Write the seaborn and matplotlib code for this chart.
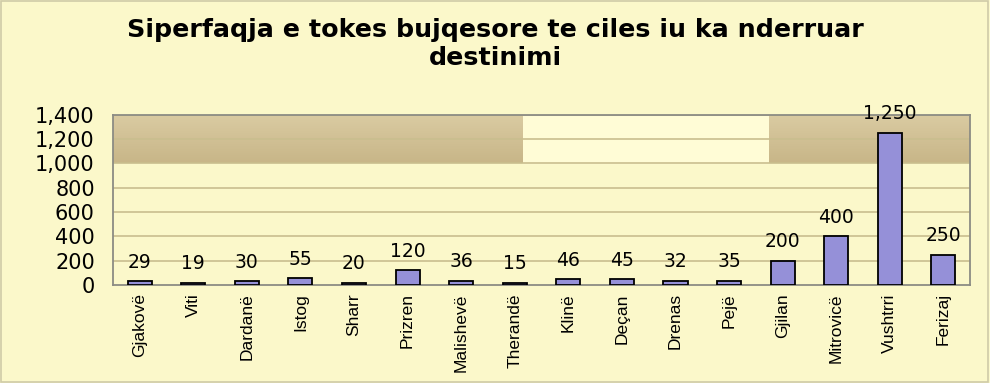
import numpy as np
import pandas as pd
import matplotlib
matplotlib.use("Agg")
import matplotlib.pyplot as plt
import seaborn as sns
from matplotlib.ticker import FuncFormatter
from matplotlib.colors import LinearSegmentedColormap
from matplotlib.patches import Rectangle

categories = ["Gjakovë", "Viti", "Dardanë", "Istog", "Sharr", "Prizren", "Malishevë",
              "Therandë", "Klinë", "Deçan", "Drenas", "Pejë", "Gjilan", "Mitrovicë",
              "Vushtrri", "Ferizaj"]
values = [29, 19, 30, 55, 20, 120, 36, 15, 46, 45, 32, 35, 200, 400, 1250, 250]
yticks = [0, 200, 400, 600, 800, 1000, 1200, 1400]
title_lines = ["Siperfaqja e tokes bujqesore te ciles iu ka nderruar", "destinimi"]

df = pd.DataFrame({"cat": categories, "val": values})

sns.set_style("white")
plt.rcParams["font.family"] = ["DejaVu Sans"]
plt.rcParams["text.color"] = "black"
plt.rcParams["xtick.color"] = "black"
plt.rcParams["ytick.color"] = "black"

bg = "#FBF8CA"
fig = plt.figure(figsize=(9.9, 3.83), dpi=100, facecolor=bg)
fig.patches.append(Rectangle((0.001, 0.003), 0.997, 0.995, transform=fig.transFigure,
                             fill=False, edgecolor="#CFCBA8", linewidth=1.2))
ax = fig.add_axes([0.114, 0.256, 0.866, 0.444])
ax.set_facecolor(bg)

# shaded bands (1000-1400)
cmap = LinearSegmentedColormap.from_list("band", ["#C8B688", "#DACBA2"])
grad = np.linspace(0, 1, 50).reshape(-1, 1)
ax.imshow(grad, extent=(-0.5, 7.14, 1000, 1400), origin="lower", aspect="auto",
          cmap=cmap, zorder=0.5)
ax.imshow(grad, extent=(11.75, 15.5, 1000, 1400), origin="lower", aspect="auto",
          cmap=cmap, zorder=0.5)
ax.axhspan(1000, 1400, xmin=(7.14 + 0.5) / 16, xmax=(11.75 + 0.5) / 16,
           color="#FFFCD6", zorder=0.4)

for y in yticks[1:]:
    ax.axhline(y, color="#C9BE8E", lw=1.2, zorder=1)

sns.barplot(data=df, x="cat", y="val", color="#9590D8", edgecolor="black",
            linewidth=1.3, width=0.45, saturation=1, ax=ax, zorder=3)

for i, v in enumerate(values):
    ax.annotate(f"{v:,}", xy=(i, v), xytext=(0, 7), textcoords="offset points",
                ha="center", va="bottom", fontsize=13.5, color="black", zorder=4,
                annotation_clip=False)

ax.set_xlim(-0.5, 15.5)
ax.set_ylim(0, 1400)
ax.set_yticks(yticks)
ax.yaxis.set_major_formatter(FuncFormatter(lambda v, p: f"{int(v):,}"))
ax.tick_params(axis="y", labelsize=15, length=4, color="#909090", pad=9)
ax.tick_params(axis="x", length=0, pad=6)
ax.set_xticks(range(len(categories)))
ax.set_xticklabels(categories, rotation=90, fontsize=12.5,
                   fontfamily=["Liberation Sans", "DejaVu Sans"])
ax.set_xlabel("")
ax.set_ylabel("")
for s in ["left", "bottom", "top", "right"]:
    ax.spines[s].set_color("#8C8C84")
    ax.spines[s].set_linewidth(1.3)

fig.text(0.5, 0.922, title_lines[0], ha="center", va="center", fontsize=18.3,
         fontweight="bold", color="black")
fig.text(0.5, 0.849, title_lines[1], ha="center", va="center", fontsize=18.3,
         fontweight="bold", color="black")

fig.savefig("out.png", dpi=100, facecolor=bg)
